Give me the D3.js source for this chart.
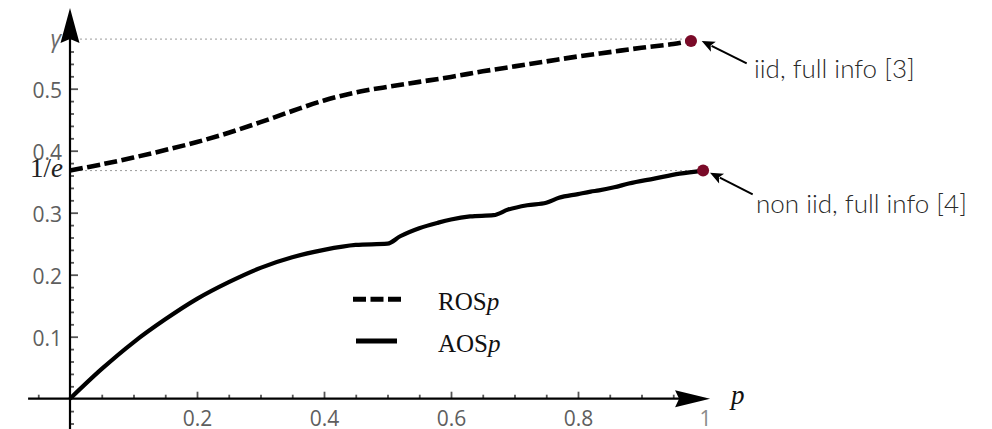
<!DOCTYPE html>
<html><head><meta charset="utf-8">
<script src="https://cdn.jsdelivr.net/npm/d3@7"></script>
<style>
html,body{margin:0;padding:0;background:#fff;}
svg{display:block;}
</style>
</head><body>
<svg id="chart" width="992" height="429"></svg>
<script>
// ---- data ----
const rosP = [0, 0.05, 0.1, 0.15, 0.2, 0.25, 0.3, 0.35, 0.4, 0.45, 0.5, 0.55, 0.6, 0.65, 0.7, 0.75, 0.8, 0.85, 0.9, 0.95, 0.978];
const rosV = [0.368, 0.378, 0.389, 0.401, 0.414, 0.429, 0.446, 0.464, 0.481, 0.494, 0.503, 0.511, 0.519, 0.528, 0.536, 0.544, 0.552, 0.559, 0.566, 0.572, 0.577];
const aosP = [0, 0.05, 0.1, 0.15, 0.2, 0.25, 0.3, 0.35, 0.4, 0.45, 0.5, 0.52, 0.55, 0.58, 0.6, 0.63, 0.667, 0.69, 0.72, 0.75, 0.77, 0.8, 0.82, 0.833, 0.857, 0.88, 0.92, 0.96, 0.997];
const aosV = [0, 0.048, 0.091, 0.128, 0.161, 0.188, 0.211, 0.228, 0.240, 0.248, 0.250, 0.262, 0.275, 0.284, 0.289, 0.294, 0.296, 0.305, 0.312, 0.316, 0.324, 0.330, 0.334, 0.336, 0.341, 0.347, 0.355, 0.363, 0.368];
const seriesNames = ["ROS", "AOS"];
const xMajorTicks = [0.2, 0.4, 0.6, 0.8, 1];
const xTickLabels = ["0.2", "0.4", "0.6", "0.8", "1"];
const xMinorTicks = [-0.05, 0.05, 0.1, 0.15, 0.25, 0.3, 0.35, 0.45, 0.5, 0.55, 0.65, 0.7, 0.75, 0.85, 0.9, 0.95];
const yMajorTicks = [0.1, 0.2, 0.3, 0.4, 0.5];
const yTickLabels = ["0.1", "0.2", "0.3", "0.4", "0.5"];
const yMinorTicks = [-0.04, -0.02, 0.02, 0.04, 0.06, 0.08, 0.12, 0.14, 0.16, 0.18, 0.22, 0.24, 0.26, 0.28, 0.32, 0.34, 0.36, 0.38, 0.42, 0.44, 0.46, 0.48, 0.52, 0.54, 0.56];
const gammaVal = 0.580;
const invE = 0.3679;
const annotations = ["iid, full info [3]", "non iid, full info [4]"];

// ---- scales ----
const x = d3.scaleLinear().domain([0, 1]).range([70, 705]);
const y = d3.scaleLinear().domain([0, 0.5]).range([398.7, 88.7]);

const svg = d3.select("#chart");
const tickFont = "'Open Sans', 'DejaVu Sans', sans-serif";
const serif = "'Liberation Serif', 'DejaVu Serif', serif";

// reference dotted lines
const refs = [{v: gammaVal, p: 0.978}, {v: invE, p: 0.997}];
svg.selectAll("line.ref").data(refs).enter().append("line")
  .attr("x1", x(0)).attr("x2", d => x(d.p))
  .attr("y1", d => y(d.v)).attr("y2", d => y(d.v))
  .attr("stroke", "#9a9a9a").attr("stroke-width", 1).attr("stroke-dasharray", "2,3");

// ---- axes ticks via d3.axis ----
const yMinorAxis = d3.axisLeft(y).tickValues(yMinorTicks).tickSizeInner(-4).tickSizeOuter(0).tickFormat("");
const yMajorAxis = d3.axisLeft(y).tickValues(yMajorTicks).tickSizeInner(-8).tickSizeOuter(0).tickPadding(8)
  .tickFormat((d, i) => yTickLabels[i]);
const xMinorAxis = d3.axisBottom(x).tickValues(xMinorTicks).tickSizeInner(-4).tickSizeOuter(0).tickFormat("");
const xMajorAxis = d3.axisBottom(x).tickValues(xMajorTicks).tickSizeInner(-7).tickSizeOuter(0).tickPadding(12)
  .tickFormat((d, i) => xTickLabels[i]);

function styleAxis(g) {
  g.select(".domain").remove();
  g.selectAll(".tick line").attr("stroke", "#555").attr("stroke-width", 1.8);
  g.selectAll(".tick text").attr("fill", "#5e5e5e").style("font-family", tickFont).style("font-size", "21px");
}
svg.append("g").attr("transform", `translate(${x(0)},0)`).call(yMinorAxis).call(styleAxis);
const gy = svg.append("g").attr("transform", `translate(${x(0)},0)`).call(yMajorAxis).call(styleAxis);
gy.selectAll(".tick text").attr("dy", "0.43em");
svg.append("g").attr("transform", `translate(0,${y(0)})`).call(xMinorAxis).call(styleAxis);
const gx = svg.append("g").attr("transform", `translate(0,${y(0)})`).call(xMajorAxis).call(styleAxis);
gx.selectAll(".tick text").filter(d => d === 1).attr("fill", "#8a8a8a");
gx.selectAll(".tick line").filter(d => d === 1).remove();

// axis lines
svg.append("line").attr("x1", x(-0.066)).attr("x2", x(0.99)).attr("y1", y(0)).attr("y2", y(0))
  .attr("stroke", "#000").attr("stroke-width", 2.2);
svg.append("line").attr("x1", x(0)).attr("x2", x(0)).attr("y1", y(-0.06)).attr("y2", y(0.6))
  .attr("stroke", "#000").attr("stroke-width", 2.2);
// arrowheads
const xt = x(1.008), yt = y(0), yTip = y(0.63);
svg.append("path").attr("d", `M${xt},${yt} L${xt - 35},${yt - 8.5} L${xt - 31},${yt} L${xt - 35},${yt + 8.5} Z`).attr("fill", "#000");
svg.append("path").attr("d", `M${x(0)},${yTip} L${x(0) + 9.5},${yTip + 35} L${x(0)},${yTip + 31} L${x(0) - 9.5},${yTip + 35} Z`).attr("fill", "#000");

// special y labels
svg.append("text").attr("x", x(0) - 9).attr("y", y(gammaVal) + 8).attr("text-anchor", "end")
  .style("font-family", tickFont).style("font-style", "italic").style("font-size", "23px").attr("fill", "#6a6a6a").text("γ");
svg.append("text").attr("x", x(0) - 7).attr("y", y(invE) + 6).attr("text-anchor", "end")
  .style("font-family", serif).style("font-size", "27px").attr("fill", "#222")
  .html("1/<tspan font-style='italic'>e</tspan>");
// axis label p
svg.append("text").attr("x", 731).attr("y", 404)
  .style("font-family", serif).style("font-style", "italic").style("font-size", "27px").attr("fill", "#111").text("p");

// ---- curves ----
const rosLine = d3.line().x(d => x(d[0])).y(d => y(d[1])).curve(d3.curveCatmullRom.alpha(0.5));
const aosLine = d3.line().x(d => x(d[0])).y(d => y(d[1])).curve(d3.curveMonotoneX);
const rosData = rosP.map((p, i) => [p, rosV[i]]);
const aosData = aosP.map((p, i) => [p, aosV[i]]);
svg.append("path").attr("d", rosLine(rosData)).attr("fill", "none").attr("stroke", "#000")
  .attr("stroke-width", 4.6).attr("stroke-dasharray", "13,4.5");
svg.append("path").attr("d", aosLine(aosData)).attr("fill", "none").attr("stroke", "#000")
  .attr("stroke-width", 4.2);

// dots
const ends = [rosData[rosData.length - 1], aosData[aosData.length - 1]];
svg.selectAll("circle.end").data(ends).enter().append("circle")
  .attr("cx", d => x(d[0])).attr("cy", d => y(d[1])).attr("r", 6).attr("fill", "#7a0a28");

// annotation arrows
const arrows = [
  {from: [746.7, 63.3], to: [701.7, 41.0], text: annotations[0], tx: 754, ty: 78},
  {from: [752.7, 194.3], to: [710.0, 172.7], text: annotations[1], tx: 756, ty: 213}
];
arrows.forEach(a => {
  const dx = a.to[0] - a.from[0], dy = a.to[1] - a.from[1];
  const L = Math.hypot(dx, dy), ux = dx / L, uy = dy / L;
  const hl = 13, hw = 5.5;
  const bx = a.to[0] - ux * hl, by = a.to[1] - uy * hl;
  svg.append("line").attr("x1", a.from[0]).attr("y1", a.from[1]).attr("x2", bx + ux * 2).attr("y2", by + uy * 2)
    .attr("stroke", "#000").attr("stroke-width", 2);
  svg.append("path").attr("d", `M${a.to[0]},${a.to[1]} L${bx - uy * hw},${by + ux * hw} L${bx + ux * 3},${by + uy * 3} L${bx + uy * hw},${by - ux * hw} Z`)
    .attr("fill", "#000");
  svg.append("text").attr("x", a.tx).attr("y", a.ty)
    .style("font-family", "Lato, 'Open Sans', sans-serif").style("font-weight", 300).style("font-size", "26px")
    .attr("fill", "#2a2a2a").text(a.text);
});

// legend
const legend = svg.append("g");
legend.append("line").attr("x1", 353).attr("x2", 401).attr("y1", 299.3).attr("y2", 299.3)
  .attr("stroke", "#000").attr("stroke-width", 5).attr("stroke-dasharray", "13,4.5");
legend.append("line").attr("x1", 356).attr("x2", 397).attr("y1", 341).attr("y2", 341)
  .attr("stroke", "#000").attr("stroke-width", 5);
[[seriesNames[0], 310], [seriesNames[1], 351.7]].forEach(([n, yy]) => {
  legend.append("text").attr("x", 438).attr("y", yy)
    .style("font-family", serif).style("font-size", "25px").attr("fill", "#111")
    .html(n + "<tspan font-style='italic'>p</tspan>");
});
</script>
</body></html>
